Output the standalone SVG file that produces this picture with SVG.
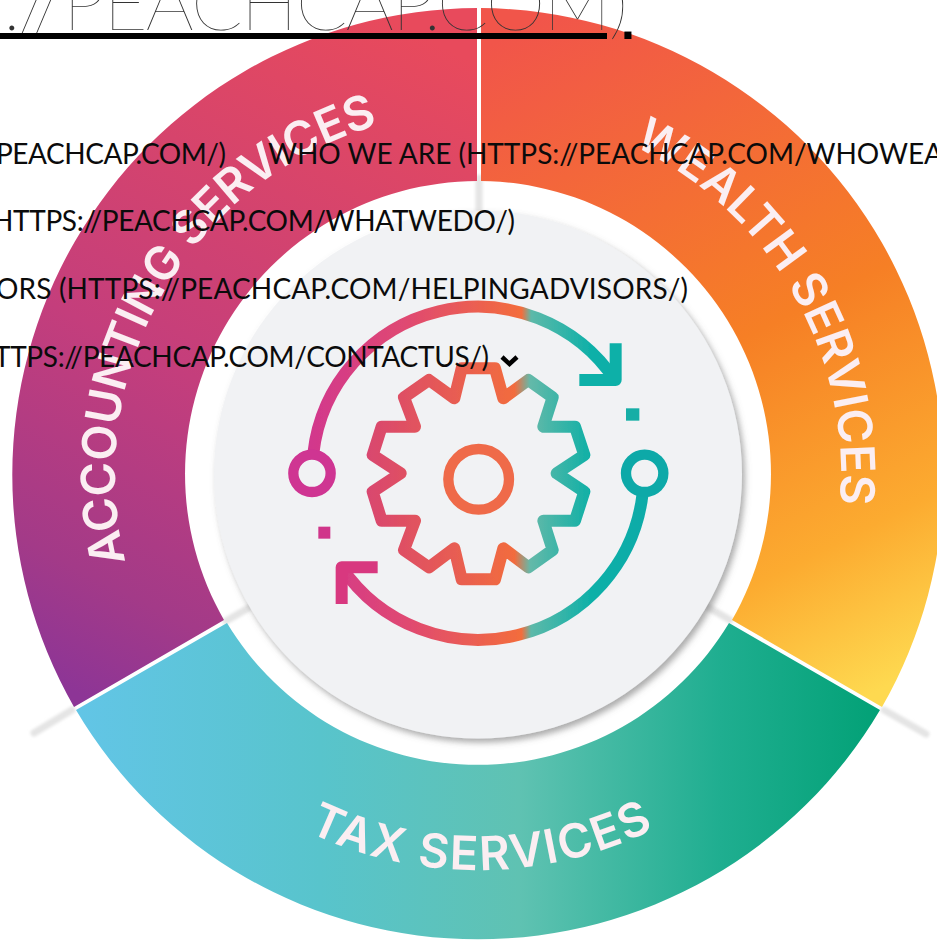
<svg xmlns="http://www.w3.org/2000/svg" width="937" height="942" viewBox="0 0 937 942">
<style>
.nav{font-family:"Lato","Noto Sans",sans-serif;font-size:28px;fill:#0b0b0b}
.lab{font-family:"Inter","Noto Sans",sans-serif;font-size:47px;font-weight:600;fill:#fbeef2}
.sep{stroke:#e4e4e4;stroke-width:7;stroke-linecap:round;fill:none}
.ln{fill:none;stroke-width:36;stroke-linejoin:round}
</style>
<defs>
<linearGradient id="gL" gradientUnits="userSpaceOnUse" x1="430" y1="40" x2="90" y2="700"><stop offset="0" stop-color="#e84a5c"/><stop offset=".55" stop-color="#c43e7c"/><stop offset=".85" stop-color="#a33a88"/><stop offset="1" stop-color="#8d3596"/></linearGradient>
<linearGradient id="gR" gradientUnits="userSpaceOnUse" x1="520" y1="30" x2="860" y2="700"><stop offset="0" stop-color="#f1554a"/><stop offset=".5" stop-color="#f67f25"/><stop offset=".8" stop-color="#fcab30"/><stop offset="1" stop-color="#fed950"/></linearGradient>
<linearGradient id="gB" gradientUnits="userSpaceOnUse" x1="80" y1="0" x2="880" y2="0"><stop offset="0" stop-color="#62c5e6"/><stop offset=".3" stop-color="#58c4cc"/><stop offset=".55" stop-color="#5fc2b2"/><stop offset=".8" stop-color="#1fae90"/><stop offset="1" stop-color="#02a176"/></linearGradient>
<linearGradient id="gI" gradientUnits="userSpaceOnUse" x1="60" y1="0" x2="1190" y2="0"><stop offset="0" stop-color="#cf3492"/><stop offset=".3" stop-color="#df4873"/><stop offset=".615" stop-color="#f36d3c"/><stop offset=".64" stop-color="#5db9a9"/><stop offset=".8" stop-color="#0eb0a8"/><stop offset="1" stop-color="#0aa9a8"/></linearGradient>
<linearGradient id="gG" gradientUnits="userSpaceOnUse" x1="295" y1="0" x2="960" y2="0"><stop offset="0" stop-color="#d9476f"/><stop offset=".66" stop-color="#f26c3e"/><stop offset=".73" stop-color="#64b9a9"/><stop offset="1" stop-color="#10b0a6"/></linearGradient>
<filter id="sh" x="-10%" y="-10%" width="120%" height="120%"><feDropShadow dx="3" dy="4" stdDeviation="3" flood-color="#666" flood-opacity=".55"/></filter>
<filter id="soft" x="-5%" y="-5%" width="110%" height="110%"><feGaussianBlur stdDeviation=".7"/></filter>
<filter id="blurL" filterUnits="userSpaceOnUse" x="0" y="0" width="937" height="942"><feGaussianBlur stdDeviation="1.500"/></filter>
<path id="pL" d="M163.600 655.500A363 363 0 0 1 478 111"/>
<path id="pR" d="M478 111A363 363 0 0 1 792.400 655.500"/>
<path id="pB" d="M135 672A396 396 0 0 0 821 672"/>
</defs>
<rect width="937" height="942" fill="#fff"/>
<g id="connectors" filter="url(#blurL)">
<path class="sep" d="M252 606L226 621"/>
<path class="sep" d="M72 710L34 733"/>
<path class="sep" d="M706 606L730 620"/>
<path class="sep" d="M884 710L926 734"/>
<path class="sep" d="M479 212V178"/>
</g>
<g id="node-accounting">
<path fill="url(#gL)" d="M477 8A467 467 0 0 0 74 707L224 620A293 293 0 0 1 477 181Z"/>
<text class="lab" letter-spacing="-.4" filter="url(#soft)"><textPath href="#pL" startOffset="50%" text-anchor="middle">ACCOUNTING SERVICES</textPath></text>
</g>
<g id="node-wealth">
<path fill="url(#gR)" d="M481 8A467 467 0 0 1 882 707L732 620A293 293 0 0 0 481 181Z"/>
<text class="lab" filter="url(#soft)"><textPath href="#pR" startOffset="50%" text-anchor="middle">WEALTH SERVICES</textPath></text>
</g>
<g id="node-tax">
<path fill="url(#gB)" d="M76 710L227 623A293 293 0 0 0 729 623L880 710A467 467 0 0 1 76 710Z"/>
<text class="lab" letter-spacing="2" filter="url(#soft)"><textPath href="#pB" startOffset="50.500%" text-anchor="middle">TAX SERVICES</textPath></text>
</g>
<g id="node-hub">
<circle cx="478" cy="474.500" r="264" fill="#f1f2f4" filter="url(#sh)"/>
<g id="icon" transform="translate(270 290) scale(.33333)" filter="url(#soft)">
<path class="ln" stroke="url(#gI)" d="M130 490A496 496 0 0 1 1036 272"/>
<path class="ln" stroke="url(#gI)" d="M1118 610A496 496 0 0 1 215 832"/>
<path class="ln" stroke="#0eb0a8" stroke-linejoin="miter" d="M1037 160V270H928"/>
<path class="ln" stroke="#d8387f" stroke-linejoin="miter" d="M215 942V832H323"/>
<circle cx="126" cy="550" r="56" fill="none" stroke="#cf3492" stroke-width="31"/>
<circle cx="1124" cy="550" r="56" fill="none" stroke="#0aa9a8" stroke-width="31"/>
<rect x="1068" y="355" width="40" height="37" fill="#12aea6"/>
<rect x="145" y="710" width="36" height="36" fill="#d0368a"/>
<path class="ln" stroke="url(#gG)" d="M553 325L575 235H675L700 325L775 270L848 322L820 410H915L943 495L860 550L943 605L915 692H820L848 780L775 832L700 775L675 868H575L553 775L477 832L402 780L435 692H335L308 605L392 550L308 495L335 410H435L402 322L477 270Z"/>
<circle cx="626" cy="568" r="91" fill="none" stroke="#ef6a48" stroke-width="31"/>
</g>
</g>
<g id="heading">
<text x="3" y="30" font-family="Lato,'Noto Sans',sans-serif" font-size="76" font-weight="100" fill="#333" textLength="625" lengthAdjust="spacing">.//PEACHCAP.COM)</text>
<rect x="0" y="33" width="607" height="6" fill="#000"/>
<text x="621" y="39" font-family="'Liberation Sans',sans-serif" font-weight="700" font-size="50" fill="#000">.</text>
</g>
<g id="nav">
<text class="nav" x="-4" y="164" textLength="230" lengthAdjust="spacing">PEACHCAP.COM/)</text>
<text class="nav" x="268" y="164" textLength="675" lengthAdjust="spacing">WHO WE ARE (HTTPS://PEACHCAP.COM/WHOWEA</text>
<text class="nav" x="-8" y="231" textLength="523" lengthAdjust="spacing">HTTPS://PEACHCAP.COM/WHATWEDO/)</text>
<text class="nav" x="-4" y="299" textLength="692" lengthAdjust="spacing">ORS (HTTPS://PEACHCAP.COM/HELPINGADVISORS/)</text>
<text class="nav" x="-6" y="367" textLength="495" lengthAdjust="spacing">TTPS://PEACHCAP.COM/CONTACTUS/)</text>
<path d="M502 357L509.500 364L517 357" fill="none" stroke="#000" stroke-width="4.500"/>
</g>
</svg>
